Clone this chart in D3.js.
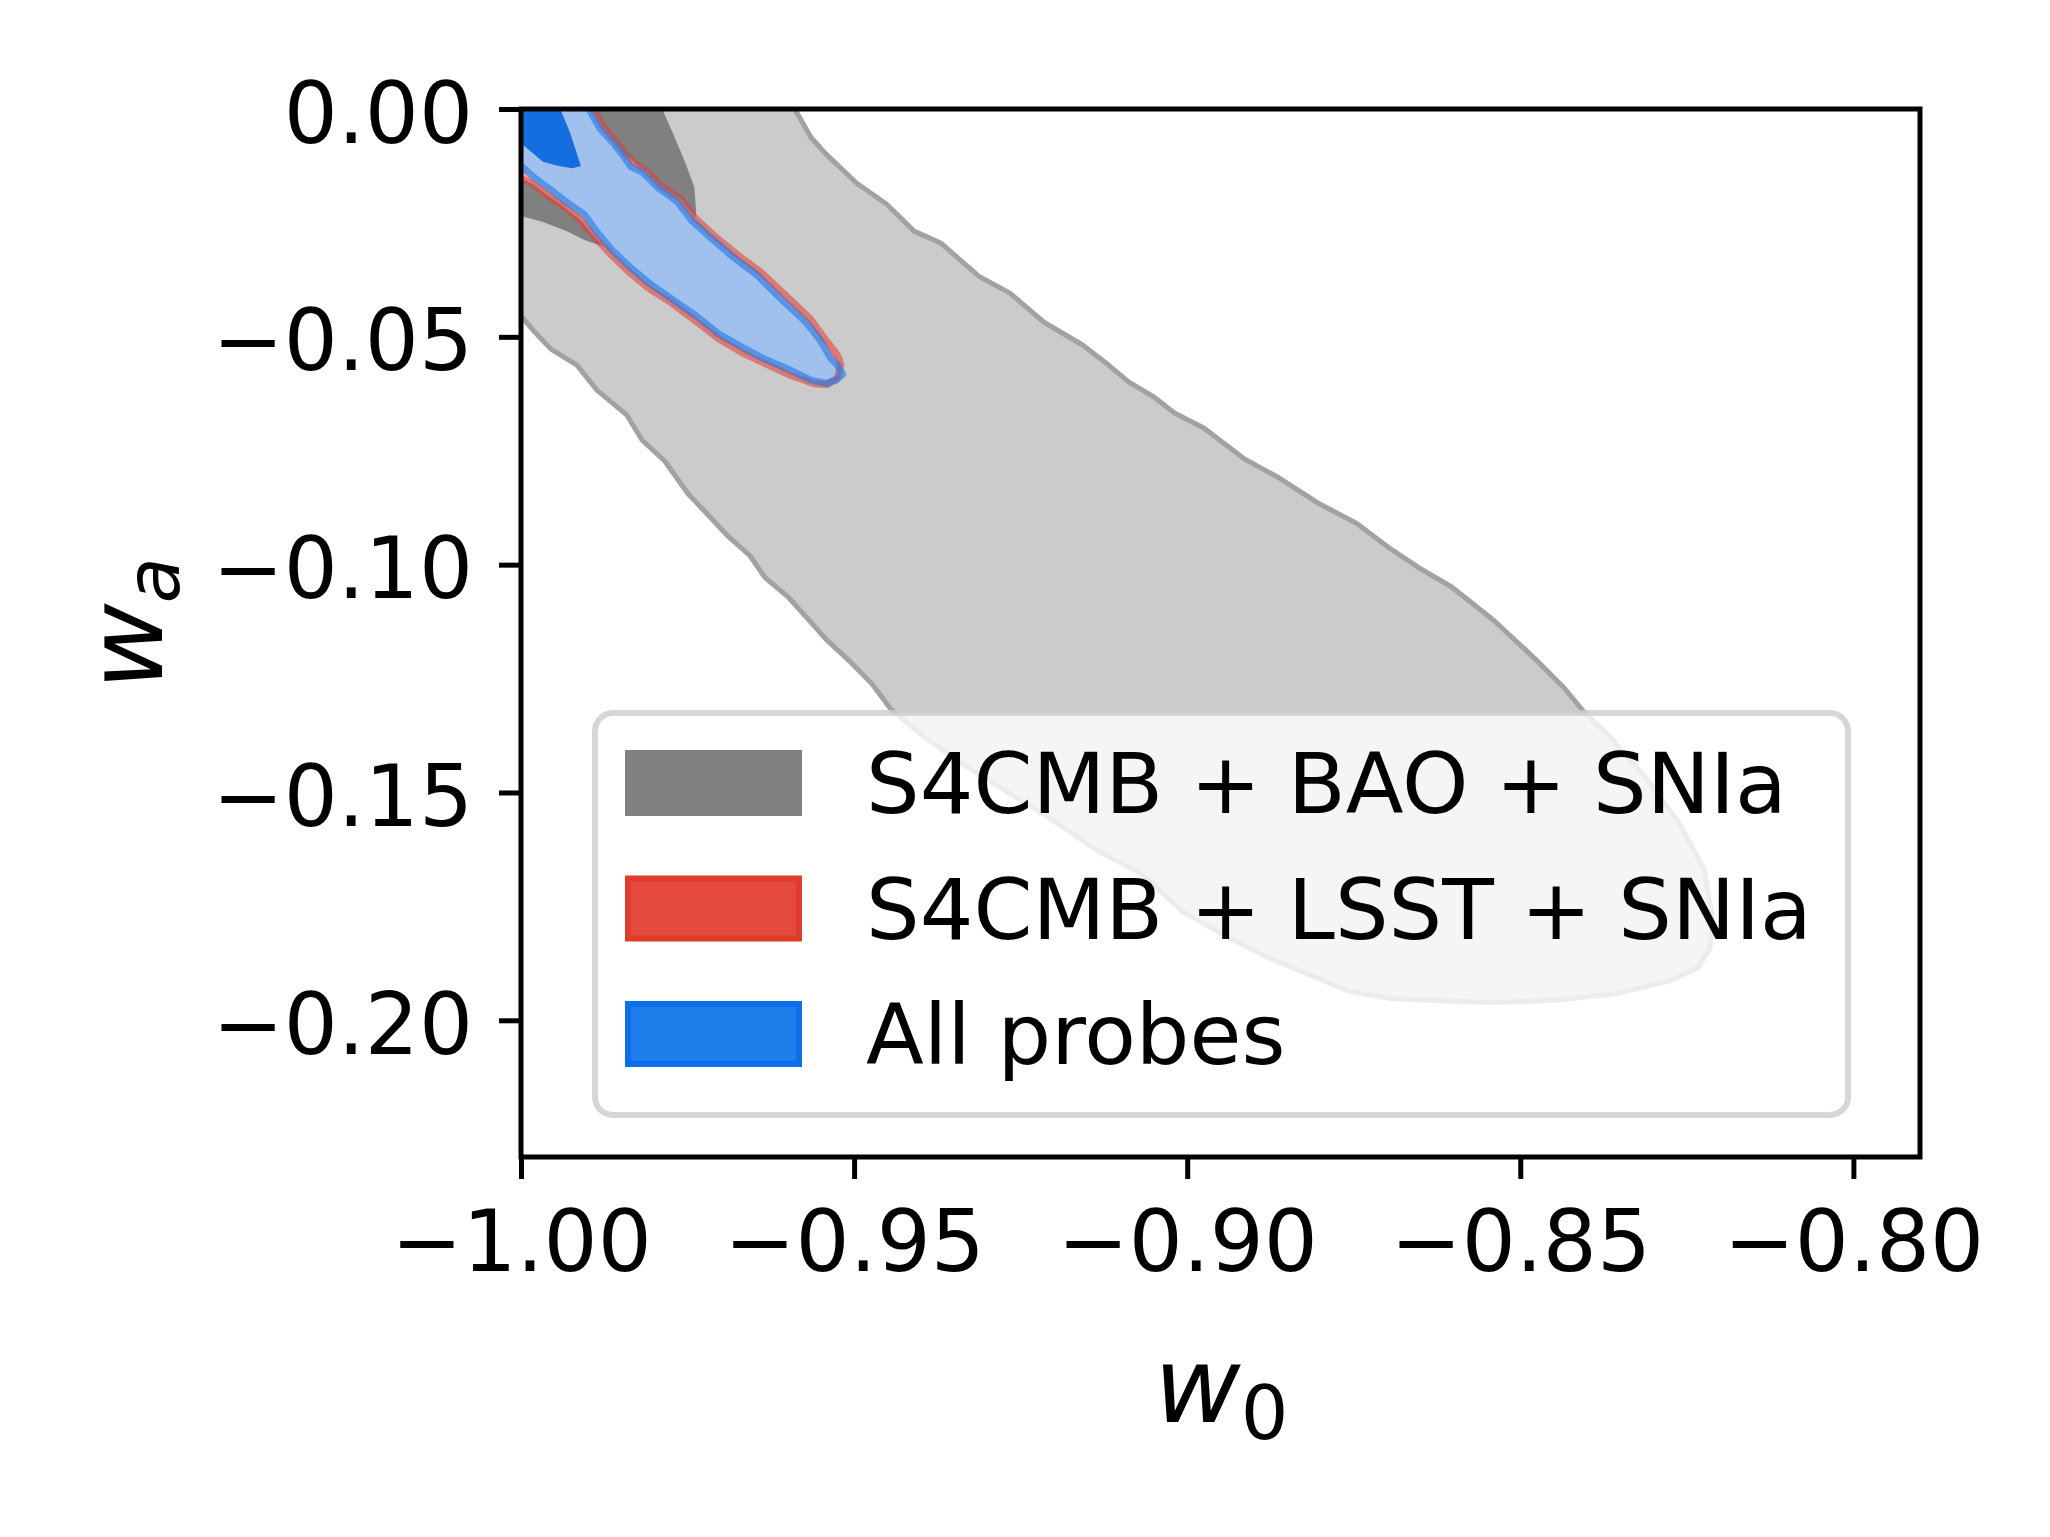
<!DOCTYPE html>
<html><head><meta charset="utf-8">
<script src="https://cdn.jsdelivr.net/npm/d3@7"></script>
<style>html,body{margin:0;padding:0;background:#fff;} svg{display:block;}</style>
</head><body>
<script>
// ---- data ----
const xTicks = [-1.00, -0.95, -0.90, -0.85, -0.80];
const yTicks = [0.00, -0.05, -0.10, -0.15, -0.20];
const xDomain = [-1.0, -0.79];
const yDomain = [-0.23, 0.0];
const legendLabels = ["S4CMB + BAO + SNIa", "S4CMB + LSST + SNIa", "All probes"];

// contour boundaries [w0, wa]
const grayOuter = [[-1.006,0.006],[-0.9600,0.006],[-0.9589,0.0],[-0.9565,-0.0062],[-0.9542,-0.0099],[-0.9496,-0.0163],[-0.9451,-0.0209],[-0.9410,-0.0268],[-0.9370,-0.0294],[-0.9313,-0.0367],[-0.9266,-0.0404],[-0.9215,-0.0468],[-0.9157,-0.0518],[-0.9118,-0.0562],[-0.9088,-0.0599],[-0.9050,-0.0632],[-0.9019,-0.0667],[-0.8975,-0.0700],[-0.8914,-0.0768],[-0.8864,-0.0808],[-0.8801,-0.0867],[-0.8746,-0.0909],[-0.8696,-0.0964],[-0.8653,-0.1006],[-0.8603,-0.1049],[-0.8540,-0.1122],[-0.8479,-0.1205],[-0.8435,-0.1269],[-0.8404,-0.1324],[-0.8366,-0.1377],[-0.8311,-0.1469],[-0.8261,-0.1568],[-0.8224,-0.1669],[-0.8212,-0.1770],[-0.8215,-0.1842],[-0.8233,-0.1884],[-0.8273,-0.1912],[-0.8354,-0.1941],[-0.8447,-0.1956],[-0.8540,-0.1961],[-0.8603,-0.1958],[-0.8696,-0.1952],[-0.8758,-0.1936],[-0.8821,-0.1897],[-0.8882,-0.1860],[-0.8945,-0.1813],[-0.9007,-0.1761],[-0.9070,-0.1677],[-0.9131,-0.1631],[-0.9206,-0.1557],[-0.9281,-0.1489],[-0.9341,-0.1434],[-0.9392,-0.1381],[-0.9445,-0.1317],[-0.9473,-0.1262],[-0.9508,-0.1210],[-0.9542,-0.1164],[-0.9565,-0.1126],[-0.9599,-0.1071],[-0.9634,-0.1028],[-0.9656,-0.0981],[-0.9691,-0.0935],[-0.9719,-0.0891],[-0.9749,-0.0845],[-0.9784,-0.0773],[-0.9818,-0.0727],[-0.9841,-0.0672],[-0.9886,-0.0617],[-0.9916,-0.0562],[-0.9955,-0.0527],[-0.9979,-0.0490],[-1.0,-0.0454],[-1.006,-0.0440]];
const grayInner = [[-1.006,0.006],[-0.9795,0.006],[-0.9788,0.0],[-0.9772,-0.0053],[-0.9754,-0.0116],[-0.9740,-0.0171],[-0.9737,-0.0226],[-0.9740,-0.0248],[-0.9746,-0.0288],[-0.9761,-0.0314],[-0.9821,-0.0336],[-0.9877,-0.0301],[-0.9904,-0.0288],[-0.9932,-0.0268],[-0.9967,-0.0248],[-1.0,-0.0235],[-1.006,-0.0233]];
const redOuter = [[-1.006,0.006],[-0.9900,0.006],[-0.9892,0.0],[-0.9876,-0.0040],[-0.9858,-0.0070],[-0.9842,-0.0100],[-0.9828,-0.0120],[-0.9812,-0.0135],[-0.9790,-0.0168],[-0.9760,-0.0198],[-0.9738,-0.0240],[-0.9710,-0.0278],[-0.9675,-0.0320],[-0.9640,-0.0358],[-0.9602,-0.0410],[-0.9566,-0.0460],[-0.9546,-0.0500],[-0.9525,-0.0540],[-0.9520,-0.0560],[-0.9525,-0.0590],[-0.9540,-0.0605],[-0.9560,-0.0603],[-0.9595,-0.0585],[-0.9632,-0.0560],[-0.9668,-0.0535],[-0.9703,-0.0505],[-0.9740,-0.0463],[-0.9775,-0.0425],[-0.9810,-0.0392],[-0.9840,-0.0355],[-0.9866,-0.0318],[-0.9890,-0.0280],[-0.9910,-0.0245],[-0.9935,-0.0215],[-0.9960,-0.0190],[-0.9982,-0.0165],[-1.0,-0.0152],[-1.006,-0.0140]];
const blueOuter = [[-1.006,0.006],[-0.9905,0.006],[-0.9898,0.0],[-0.9881,-0.0044],[-0.9863,-0.0072],[-0.9847,-0.0101],[-0.9835,-0.0127],[-0.9818,-0.0138],[-0.9794,-0.0173],[-0.9766,-0.0202],[-0.9743,-0.0246],[-0.9715,-0.0283],[-0.9680,-0.0327],[-0.9646,-0.0364],[-0.9608,-0.0419],[-0.9572,-0.0468],[-0.9551,-0.0507],[-0.9536,-0.0545],[-0.9524,-0.0564],[-0.9517,-0.0582],[-0.9527,-0.0595],[-0.9542,-0.0602],[-0.9565,-0.0595],[-0.9599,-0.0571],[-0.9634,-0.0549],[-0.9668,-0.0523],[-0.9703,-0.0494],[-0.9737,-0.0454],[-0.9772,-0.0419],[-0.9806,-0.0384],[-0.9835,-0.0349],[-0.9863,-0.0310],[-0.9886,-0.0270],[-0.9904,-0.0233],[-0.9932,-0.0204],[-0.9955,-0.0178],[-0.9979,-0.0152],[-1.0,-0.0125],[-1.006,-0.0110]];
const blueInner = [[-1.006,0.006],[-0.9944,0.006],[-0.9941,0.0],[-0.9926,-0.0053],[-0.9916,-0.0099],[-0.9910,-0.0125],[-0.9923,-0.0130],[-0.9944,-0.0125],[-0.9967,-0.0116],[-0.9995,-0.0081],[-1.0,-0.0077],[-1.006,-0.0070]];

// ---- layout ----
const W = 2050, H = 1537;
const plot = {left: 521, right: 1920, top: 109, bottom: 1157};
const FONT = "DejaVu Sans";

const svg = d3.select("body").append("svg").attr("width", W).attr("height", H);
svg.append("rect").attr("width", W).attr("height", H).attr("fill", "#fff");

const x = d3.scaleLinear().domain(xDomain).range([plot.left, plot.right]);
const y = d3.scaleLinear().domain(yDomain).range([plot.bottom, plot.top]);

svg.append("defs").append("clipPath").attr("id", "clip")
  .append("rect").attr("x", plot.left).attr("y", plot.top)
  .attr("width", plot.right - plot.left).attr("height", plot.bottom - plot.top);

const line = d3.line().x(d => x(d[0])).y(d => y(d[1])).curve(d3.curveLinearClosed);
const g = svg.append("g").attr("clip-path", "url(#clip)");

g.append("path").attr("d", line(grayOuter)).attr("fill", "#cbcbcb")
  .attr("stroke", "#a2a2a2").attr("stroke-width", 5).attr("stroke-linejoin", "round");
g.append("path").attr("d", line(grayInner)).attr("fill", "#808080");
g.append("path").attr("d", line(redOuter)).attr("fill", "#f0b4ad");
g.append("path").attr("d", line(blueOuter)).attr("fill", "#a0c1ee");
g.append("path").attr("d", line(blueInner)).attr("fill", "#146ee0");
g.append("path").attr("d", line(redOuter)).attr("fill", "none")
  .attr("stroke", "rgba(226,60,45,0.55)").attr("stroke-width", 7).attr("stroke-linejoin", "round");
g.append("path").attr("d", line(blueOuter)).attr("fill", "none")
  .attr("stroke", "rgba(25,120,235,0.6)").attr("stroke-width", 7).attr("stroke-linejoin", "round");

// ---- axes ----
const fmt = d3.format(".2f");
const gx = svg.append("g").attr("transform", `translate(0,${plot.bottom})`)
  .call(d3.axisBottom(x).tickValues(xTicks).tickSize(22).tickPadding(32).tickFormat(fmt));
const gy = svg.append("g").attr("transform", `translate(${plot.left},0)`)
  .call(d3.axisLeft(y).tickValues(yTicks).tickSize(22).tickPadding(26).tickFormat(fmt));
[gx, gy].forEach(a => {
  a.select(".domain").remove();
  a.attr("font-size", 85).attr("font-family", FONT);
  a.selectAll("line").attr("stroke", "#000").attr("stroke-width", 5);
  a.selectAll("text").attr("fill", "#000");
});
gy.selectAll("text").attr("dy", "0.39em");

svg.append("rect").attr("x", plot.left).attr("y", plot.top)
  .attr("width", plot.right - plot.left).attr("height", plot.bottom - plot.top)
  .attr("fill", "none").attr("stroke", "#000").attr("stroke-width", 5);

// axis labels
const xl = svg.append("text").attr("x", 1154).attr("y", 1422)
  .attr("font-family", FONT).attr("font-size", 106).attr("fill", "#000");
xl.append("tspan").attr("font-style", "italic").text("w");
xl.append("tspan").attr("font-size", 75).attr("dy", 17).text("0");

const yl = svg.append("text").attr("transform", "translate(162,690) rotate(-90)")
  .attr("font-family", FONT).attr("font-size", 106).attr("fill", "#000");
yl.append("tspan").attr("font-style", "italic").text("w");
yl.append("tspan").attr("font-style", "italic").attr("font-size", 75).attr("dy", 17).text("a");

// ---- legend ----
const legend = svg.append("g");
legend.append("rect").attr("x", 595).attr("y", 713).attr("width", 1253).attr("height", 402)
  .attr("rx", 18).attr("fill", "rgba(255,255,255,0.8)")
  .attr("stroke", "rgba(204,204,204,0.8)").attr("stroke-width", 6);
const legFill = ["#808080", "#e34a3c", "#1e7eeb"];
const legStroke = ["#808080", "#e03b2c", "#0b6fe9"];
const rowY = d3.scalePoint().domain(legendLabels).range([753, 1004]);
legendLabels.forEach((lab, i) => {
  legend.append("rect").attr("x", 628).attr("y", rowY(lab)).attr("width", 171).attr("height", 60)
    .attr("fill", legFill[i]).attr("stroke", legStroke[i]).attr("stroke-width", 6);
  legend.append("text").attr("x", 866).attr("y", rowY(lab) + 60)
    .attr("font-family", FONT).attr("font-size", 84.5).attr("fill", "#000").text(lab);
});
</script>
</body></html>
